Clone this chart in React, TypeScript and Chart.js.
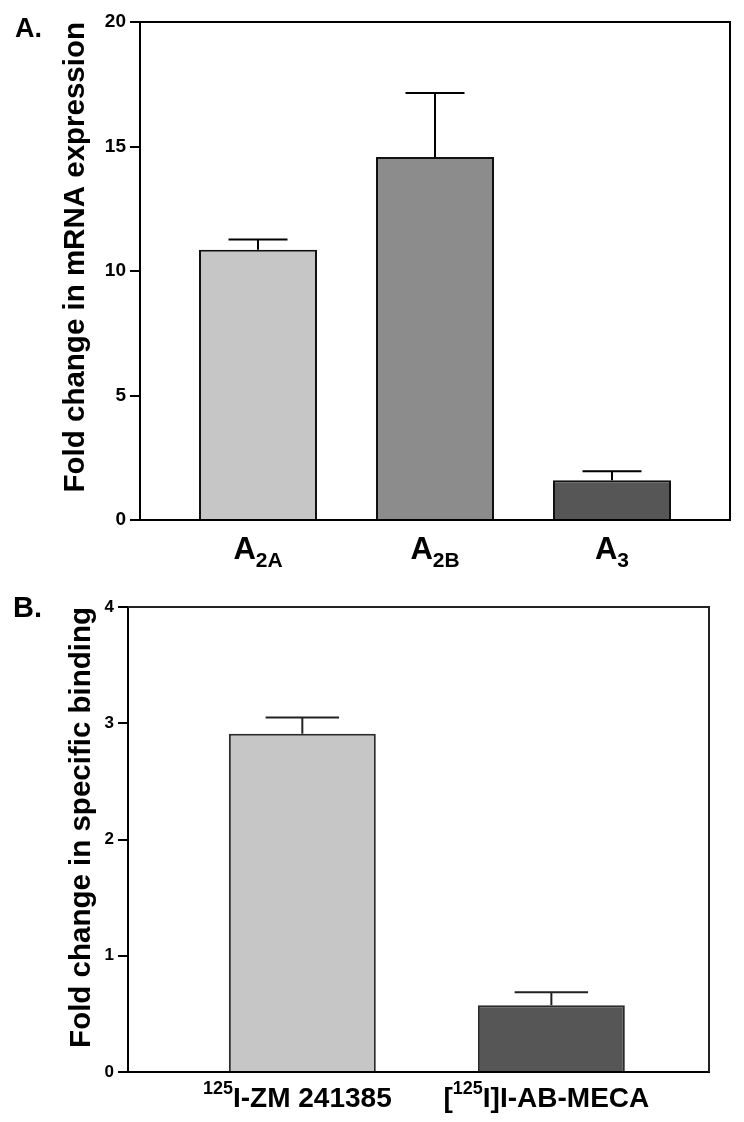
import React, { useEffect, useRef } from 'react';
import { Chart, registerables } from 'chart.js';

Chart.register(...registerables);

const FONT = '"Liberation Sans", Arial, Helvetica, sans-serif';

// ---------- Panel A: mRNA expression ----------
const mrnaLabels = ['A_{2A}', 'A_{2B}', 'A_{3}'];
const mrnaValues = [10.85, 14.58, 1.6];
const mrnaErrors = [0.42, 2.57, 0.36];
const mrnaColors = ['#c6c6c6', '#8c8c8c', '#565656'];
const mrnaTicks = [0, 5, 10, 15, 20];
const mrnaTitle = 'Fold change in mRNA expression';

// ---------- Panel B: specific binding ----------
const bindingLabels = ['^{125}I-ZM 241385', '[^{125}I]I-AB-MECA'];
const bindingValues = [2.91, 0.575];
const bindingErrors = [0.14, 0.11];
const bindingColors = ['#c6c6c6', '#565656'];
const bindingTicks = [0, 1, 2, 3, 4];
const bindingTitle = 'Fold change in specific binding';

type Seg = { text: string; kind: 'main' | 'sub' | 'sup' };

function parseLabel(s: string): Seg[] {
  const out: Seg[] = [];
  const re = /([_^])\{([^}]*)\}|([^_^]+)/g;
  let m: RegExpExecArray | null;
  while ((m = re.exec(s))) {
    if (m[3]) out.push({ text: m[3], kind: 'main' });
    else out.push({ text: m[2], kind: m[1] === '_' ? 'sub' : 'sup' });
  }
  return out;
}

type PanelCfg = {
  letter: string;
  letterX: number;
  letterY: number;
  letterSize: number;
  labels: string[];
  errors: number[];
  mainSize: number;
  smallSize: number;
  labelBaseline: number;
  labelShift: number;
  subShift: number;
  supShift: number;
  boxColor: string;
  errColor: string;
};

function makePanelPlugin(cfg: PanelCfg) {
  return {
    id: 'panelExtras',
    afterDatasetsDraw(chart: any) {
      const ctx = chart.ctx as CanvasRenderingContext2D;
      const meta = chart.getDatasetMeta(0);
      const ys = chart.scales.y;
      const data = chart.data.datasets[0].data as any[];
      ctx.save();
      ctx.strokeStyle = cfg.errColor;
      ctx.lineWidth = 2;
      meta.data.forEach((bar: any, i: number) => {
        const v = data[i].y;
        const e = cfg.errors[i];
        const x = bar.x;
        const yTop = ys.getPixelForValue(v + e);
        const yBar = ys.getPixelForValue(v);
        const half = bar.width / 4;
        ctx.beginPath();
        ctx.moveTo(x, yBar);
        ctx.lineTo(x, yTop);
        ctx.moveTo(x - half, yTop);
        ctx.lineTo(x + half, yTop);
        ctx.stroke();
      });
      ctx.restore();
    },
    afterDraw(chart: any) {
      const ctx = chart.ctx as CanvasRenderingContext2D;
      const a = chart.chartArea;
      ctx.save();
      ctx.strokeStyle = cfg.boxColor;
      ctx.lineWidth = 2;
      ctx.beginPath();
      ctx.moveTo(a.left, a.top);
      ctx.lineTo(a.right, a.top);
      ctx.lineTo(a.right, a.bottom);
      ctx.stroke();

      ctx.fillStyle = '#000';
      ctx.textAlign = 'left';
      ctx.textBaseline = 'alphabetic';
      ctx.font = `bold ${cfg.letterSize}px ${FONT}`;
      ctx.fillText(cfg.letter, cfg.letterX, cfg.letterY);

      const xs = chart.scales.x;
      const fontFor = (s: Seg) =>
        `bold ${s.kind === 'main' ? cfg.mainSize : cfg.smallSize}px ${FONT}`;
      cfg.labels.forEach((lab, i) => {
        const segs = parseLabel(lab);
        const widths = segs.map((s) => {
          ctx.font = fontFor(s);
          return ctx.measureText(s.text).width;
        });
        const total = widths.reduce((p, c) => p + c, 0);
        let x = xs.getPixelForValue(i) - total / 2 + cfg.labelShift;
        segs.forEach((s, k) => {
          ctx.font = fontFor(s);
          const y =
            cfg.labelBaseline +
            (s.kind === 'sub' ? cfg.subShift : s.kind === 'sup' ? -cfg.supShift : 0);
          ctx.fillText(s.text, x, y);
          x += widths[k];
        });
      });
      ctx.restore();
    },
  };
}

function buildConfig(opts: {
  labels: string[];
  values: number[];
  errors: number[];
  colors: string[];
  ticks: number[];
  title: string;
  xMin: number;
  xMax: number;
  barPct: number;
  yWidth: number;
  xHeight: number;
  padRight: number;
  padTop: number;
  tickSize: number;
  titlePad: number;
  borderColor: string;
  plugin: any;
}): any {
  const yMax = opts.ticks[opts.ticks.length - 1];
  return {
    type: 'bar',
    data: {
      datasets: [
        {
          data: opts.values.map((v, i) => ({ x: i, y: v })),
          backgroundColor: opts.colors,
          borderColor: opts.borderColor,
          borderWidth: 2,
          barPercentage: opts.barPct,
          categoryPercentage: 1,
        },
      ],
    },
    options: {
      responsive: false,
      animation: false,
      layout: { padding: { left: 0, right: opts.padRight, top: opts.padTop, bottom: 0 } },
      plugins: { legend: { display: false }, tooltip: { enabled: false } },
      scales: {
        x: {
          type: 'linear',
          min: opts.xMin,
          max: opts.xMax,
          offset: false,
          grid: { display: false },
          border: { display: true, color: '#000', width: 2 },
          ticks: { display: false },
          afterBuildTicks: (s: any) => {
            s.ticks = opts.labels.map((_, i) => ({ value: i }));
          },
          afterFit: (s: any) => {
            s.height = opts.xHeight;
          },
        },
        y: {
          type: 'linear',
          min: 0,
          max: yMax,
          afterBuildTicks: (s: any) => {
            s.ticks = opts.ticks.map((v) => ({ value: v }));
          },
          grid: {
            drawOnChartArea: false,
            drawTicks: true,
            tickLength: 10,
            color: '#000',
            lineWidth: 2,
          },
          border: { display: true, color: '#000', width: 2 },
          ticks: {
            color: '#000',
            padding: 4,
            font: { family: FONT, size: opts.tickSize, weight: 'bold' },
          },
          title: {
            display: true,
            text: opts.title,
            align: 'end',
            color: '#000',
            font: { family: FONT, size: 29.5, weight: 'bold', lineHeight: 1 },
            padding: { top: opts.titlePad, bottom: 0 },
          },
          afterFit: (s: any) => {
            s.width = opts.yWidth;
          },
        },
      },
    },
    plugins: [opts.plugin],
  };
}

export default function App() {
  const refA = useRef<HTMLCanvasElement>(null);
  const refB = useRef<HTMLCanvasElement>(null);

  useEffect(() => {
    const chartA = new Chart(
      refA.current as HTMLCanvasElement,
      buildConfig({
        labels: mrnaLabels,
        values: mrnaValues,
        errors: mrnaErrors,
        colors: mrnaColors,
        ticks: mrnaTicks,
        title: mrnaTitle,
        xMin: -2 / 3,
        xMax: 8 / 3,
        barPct: 2 / 3,
        yWidth: 140,
        xHeight: 60,
        padRight: 14,
        padTop: 22,
        tickSize: 19,
        titlePad: 61,
        borderColor: '#111',
        plugin: makePanelPlugin({
          letter: 'A.',
          letterX: 15,
          letterY: 37,
          letterSize: 27,
          labels: mrnaLabels,
          errors: mrnaErrors,
          mainSize: 31,
          smallSize: 21,
          labelBaseline: 559,
          labelShift: 0,
          subShift: 8,
          supShift: 0,
          boxColor: '#000',
          errColor: '#000',
        }),
      })
    );
    const chartB = new Chart(
      refB.current as HTMLCanvasElement,
      buildConfig({
        labels: bindingLabels,
        values: bindingValues,
        errors: bindingErrors,
        colors: bindingColors,
        ticks: bindingTicks,
        title: bindingTitle,
        xMin: -0.7,
        xMax: 1.633,
        barPct: 0.59,
        yWidth: 128,
        xHeight: 50,
        padRight: 35,
        padTop: 27,
        tickSize: 17,
        titlePad: 67,
        borderColor: '#2a2a2a',
        plugin: makePanelPlugin({
          letter: 'B.',
          letterX: 13,
          letterY: 37,
          letterSize: 29,
          labels: bindingLabels,
          errors: bindingErrors,
          mainSize: 28,
          smallSize: 18,
          labelBaseline: 527,
          labelShift: -5,
          subShift: 0,
          supShift: 13,
          boxColor: '#222',
          errColor: '#222',
        }),
      })
    );
    return () => {
      chartA.destroy();
      chartB.destroy();
    };
  }, []);

  return (
    <div style={{ position: 'absolute', left: 0, top: 0, width: 744, height: 1122, background: '#fff' }}>
      <canvas
        ref={refA}
        width={744}
        height={580}
        style={{ position: 'absolute', left: 0, top: 0, width: 744, height: 580 }}
      />
      <canvas
        ref={refB}
        width={744}
        height={542}
        style={{ position: 'absolute', left: 0, top: 580, width: 744, height: 542 }}
      />
    </div>
  );
}
